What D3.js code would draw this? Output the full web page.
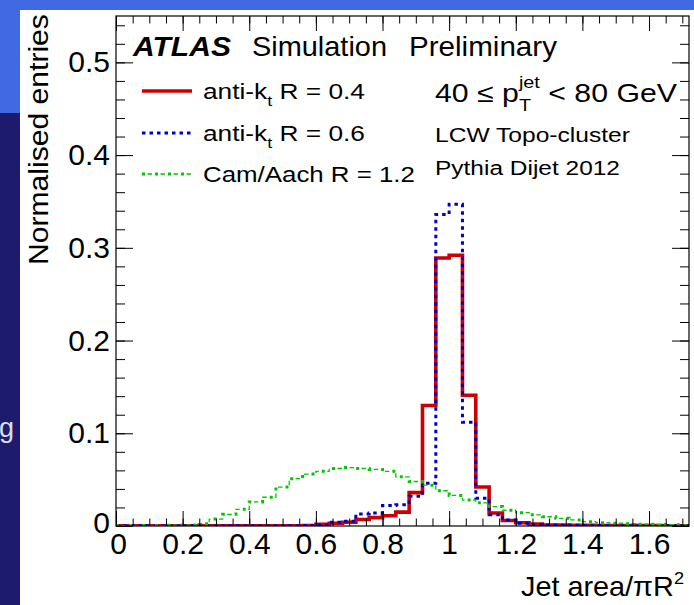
<!DOCTYPE html>
<html><head><meta charset="utf-8">
<script src="https://cdnjs.cloudflare.com/ajax/libs/d3/7.8.5/d3.min.js"></script>
<style>
html,body{margin:0;padding:0;background:#fff;}
text{font-family:"Liberation Sans",Arial,Helvetica,sans-serif;fill:#000;}
</style></head>
<body>
<svg id="c" width="694" height="605"></svg>
<script>
// ---------------- data ----------------
const binWidth = 0.04;
const xMax = 1.72;
const seriesNames = ["anti-k_t R = 0.4", "anti-k_t R = 0.6", "Cam/Aach R = 1.2"];
// anti-kt R=0.4 (43 bins of 0.04 from 0 to 1.72)
const akt4 = [0.0002,0.0002,0.0002,0.0002,0.0002,0.0002,0.0002,0.0002,0.0002,0.0002,
              0.0002,0.0002,0.0002,0.0003,0.0005,0.0018,0.003,0.004,0.007,0.009,
              0.011,0.015,0.036,0.130,0.289,0.292,0.141,0.042,0.014,0.006,
              0.0035,0.002,0.001,0.001,0.0008,0.0007,0.0006,0.0005,0.0005,0.0004,
              0.0004,0.0003,0.0003];
// anti-kt R=0.6
const akt6 = [0.0002,0.0002,0.0002,0.0002,0.0002,0.0002,0.0002,0.0002,0.0002,0.0002,
              0.0002,0.0002,0.0002,0.0003,0.0005,0.001,0.004,0.005,0.013,0.014,
              0.022,0.023,0.032,0.046,0.336,0.347,0.112,0.030,0.012,0.0065,
              0.003,0.0015,0.001,0.0008,0.0007,0.0006,0.0005,0.0005,0.0004,0.0004,
              0.0003,0.0003,0.0003];
// Cam/Aachen R=1.2
const ca12 = [0.0005,0.0005,0.0005,0.0005,0.0008,0.001,0.0025,0.0075,0.0126,0.018,
              0.026,0.031,0.042,0.051,0.056,0.059,0.062,0.063,0.062,0.061,
              0.059,0.053,0.048,0.044,0.038,0.033,0.028,0.025,0.021,0.017,
              0.0144,0.012,0.010,0.0083,0.0065,0.0047,0.0036,0.003,0.0025,0.002,
              0.0018,0.0015,0.0013];
const xTickValues = [0,0.2,0.4,0.6,0.8,1,1.2,1.4,1.6];
const xTickLabels = ["0","0.2","0.4","0.6","0.8","1","1.2","1.4","1.6"];
const yTickValues = [0,0.1,0.2,0.3,0.4,0.5];
const yTickLabels = ["0","0.1","0.2","0.3","0.4","0.5"];

// ---------------- layout ----------------
const svg = d3.select("#c");
const L = 116, R = 689, T = 16, B = 526;
const x = d3.scaleLinear().domain([0, xMax]).range([L, R]);
const y = d3.scaleLinear().domain([0, 0.55]).range([B, T]);

// slide background pieces
svg.append("rect").attr("x",0).attr("y",0).attr("width",694).attr("height",605).attr("fill","#fff");
svg.append("rect").attr("x",0).attr("y",0).attr("width",694).attr("height",10).attr("fill","#4169e1");
svg.append("rect").attr("x",0).attr("y",0).attr("width",20).attr("height",113).attr("fill","#4169e1");
svg.append("rect").attr("x",0).attr("y",113).attr("width",20).attr("height",492).attr("fill","#1c1b6c");
svg.append("text").attr("x",-1).attr("y",437).attr("font-size",27).style("fill","#dcdcf2").text("g");

// styles
const styles = [
  {color:"#cc0000", width:3.6, dash:null},
  {color:"#0000cc", width:3, dash:"3.5,4"},
  {color:"#00c800", width:3, dash:"green"}
];

function drawStyled(g, dAttr, st) {
  if (st.dash === "green") {
    g.append("path").attr("d", dAttr).attr("fill","none").attr("stroke",st.color)
      .attr("stroke-width",3).attr("stroke-dasharray","3,10");
    g.append("path").attr("d", dAttr).attr("fill","none").attr("stroke",st.color)
      .attr("stroke-width",1.3).attr("stroke-dasharray","0,5.5,4.5,3");
  } else {
    const p = g.append("path").attr("d", dAttr).attr("fill","none").attr("stroke",st.color)
      .attr("stroke-width",st.width);
    if (st.dash) p.attr("stroke-dasharray", st.dash);
  }
}

// clip
svg.append("clipPath").attr("id","clip").append("rect")
  .attr("x",L).attr("y",T).attr("width",R-L).attr("height",B-T);
const plot = svg.append("g").attr("clip-path","url(#clip)");

const line = d3.line().x(d=>x(d[0])).y(d=>y(d[1])).curve(d3.curveStepAfter);
[akt4, akt6, ca12].forEach((vals, si) => {
  const pts = vals.map((v,i)=>[i*binWidth, v]);
  pts.push([vals.length*binWidth, vals[vals.length-1]]);
  drawStyled(plot, line(pts), styles[si]);
});

// axes: ticks inside
function styleAxis(g){ g.select(".domain").remove(); g.selectAll(".tick line").attr("stroke","#000").attr("stroke-width",1); }
const xMinor = x.ticks(40), yMinor = y.ticks(27);
svg.append("g").attr("transform",`translate(0,${B})`)
  .call(d3.axisBottom(x).tickValues(xMinor).tickSize(-7.5).tickFormat("")).call(styleAxis);
svg.append("g").attr("transform",`translate(0,${T})`)
  .call(d3.axisTop(x).tickValues(xMinor).tickSize(-7.5).tickFormat("")).call(styleAxis);
svg.append("g").attr("transform",`translate(${L},0)`)
  .call(d3.axisLeft(y).tickValues(yMinor).tickSize(-9).tickFormat("")).call(styleAxis);
svg.append("g").attr("transform",`translate(${R},0)`)
  .call(d3.axisRight(y).tickValues(yMinor).tickSize(-9).tickFormat("")).call(styleAxis);

const xa = svg.append("g").attr("transform",`translate(0,${B})`)
  .call(d3.axisBottom(x).tickValues(xTickValues).tickSize(-15).tickPadding(7)
        .tickFormat((d,i)=>xTickLabels[i])).call(styleAxis);
svg.append("g").attr("transform",`translate(0,${T})`)
  .call(d3.axisTop(x).tickValues(xTickValues).tickSize(-15).tickFormat("")).call(styleAxis);
const ya = svg.append("g").attr("transform",`translate(${L},0)`)
  .call(d3.axisLeft(y).tickValues(yTickValues).tickSize(-17).tickPadding(6)
        .tickFormat((d,i)=>yTickLabels[i])).call(styleAxis);
svg.append("g").attr("transform",`translate(${R},0)`)
  .call(d3.axisRight(y).tickValues(yTickValues).tickSize(-17).tickFormat("")).call(styleAxis);
[xa, ya].forEach(a => a.selectAll("text").attr("font-size",30)
  .attr("font-family",'"Liberation Sans",Arial,sans-serif').attr("fill","#000"));
ya.selectAll(".tick").filter(d=>d===0).select("text").attr("dy","0.2em");
xa.selectAll(".tick").filter(d=>d===0).select("text").attr("x",2);

// frame
svg.append("rect").attr("x",L).attr("y",T).attr("width",R-L).attr("height",B-T)
  .attr("fill","none").attr("stroke","#000").attr("stroke-width",1.2);

// rich text helper
function rich(x0, y0, pieces, opt) {
  const g = svg.append("g");
  const t = g.append("text").attr("font-size", opt.size).style("white-space","pre");
  if (opt.bold) t.attr("font-weight","bold");
  if (opt.italic) t.attr("font-style","italic");
  let cx = 0;
  pieces.forEach(p => {
    if (p.stack) {
      const a = t.append("tspan").attr("x",cx).attr("y",p.supDy).attr("font-size",p.small).text(p.sup);
      const b = t.append("tspan").attr("x",cx).attr("y",p.subDy).attr("font-size",p.small).text(p.sub);
      cx += Math.max(a.node().getComputedTextLength(), b.node().getComputedTextLength());
    } else {
      const s = t.append("tspan").attr("x",cx).attr("y",p.dy||0).text(p.t);
      if (p.size) s.attr("font-size",p.size);
      cx += s.node().getComputedTextLength();
    }
  });
  const sc = opt.width ? opt.width/cx : 1;
  let tx = x0;
  if (opt.anchorEnd) tx = x0 - cx*sc;
  const rot = opt.rotate ? ` rotate(${opt.rotate})` : "";
  g.attr("transform", `translate(${tx},${y0})${rot} scale(${sc},1)`);
  return g;
}

// title
rich(133, 56, [{t:"ATLAS"}], {size:27, bold:true, italic:true, width:98});
rich(252, 56, [{t:"Simulation"}], {size:27, width:135});
rich(409, 56, [{t:"Preliminary"}], {size:27, width:148});

// legend
const legY = [91, 133, 174];
const legPieces = [
  [{t:"anti-k"},{t:"t",size:15,dy:7},{t:" R = 0.4"}],
  [{t:"anti-k"},{t:"t",size:15,dy:7},{t:" R = 0.6"}],
  [{t:"Cam/Aach R = 1.2"}]
];
const legW = [162, 162, 212];
legY.forEach((ly, i) => {
  drawStyled(svg.append("g"), `M142,${ly}L192,${ly}`, styles[i]);
  rich(203, ly+8, legPieces[i], {size:22, width:legW[i]});
});

// right-hand text
rich(435, 102, [{t:"40 ≤ p"},{stack:true, sup:"jet", sub:"T", small:17, supDy:-14, subDy:9},{t:" < 80 GeV"}], {size:26, width:242});
rich(435, 142, [{t:"LCW Topo-cluster"}], {size:21, width:195});
rich(435, 175, [{t:"Pythia Dijet 2012"}], {size:21, width:185});

// axis titles
rich(684, 596, [{t:"Jet area/πR"},{t:"2",size:17,dy:-12}], {size:27, width:163, anchorEnd:true});
rich(48, 265, [{t:"Normalised entries"}], {size:28, width:251, rotate:-90});
</script>
</body></html>
